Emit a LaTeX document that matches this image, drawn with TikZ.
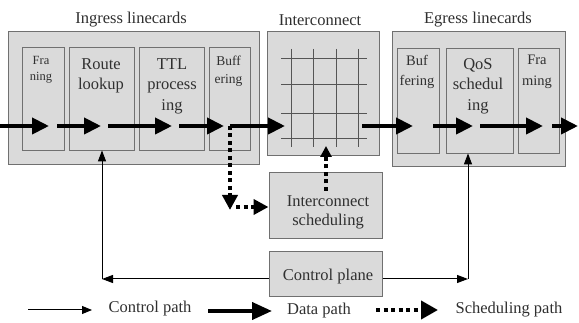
\documentclass[tikz,border=0pt]{standalone}
\usepackage{fontspec}
\setmainfont{Liberation Serif}
\usetikzlibrary{arrows.meta}
\definecolor{boxfill}{HTML}{DADADA}
\definecolor{boxline}{HTML}{707070}
\definecolor{gridline}{HTML}{555555}
\definecolor{inktext}{HTML}{303030}
\begin{document}
\begin{tikzpicture}[x=1pt,y=-1pt,
  outerbox/.style={draw=boxline, fill=boxfill, line width=1pt, inner sep=0pt},
  innerbox/.style={draw=boxline, fill=boxfill, line width=0.8pt, inner sep=0pt},
  lbl/.style={inner sep=0pt, align=center, text=inktext, font=\fontsize{16.5}{20.5}\selectfont},
  datapath/.style={line width=4pt, -{Triangle[length=17pt,width=16pt]}},
  ctrlpath/.style={line width=1pt, -{Triangle[length=11pt,width=8pt]}},
  schedpath/.style={line width=4pt, dash pattern=on 4pt off 3.5pt, -{Triangle[length=15pt,width=15pt]}},
  gridseg/.style={draw=gridline, line width=0.9pt}
]
\useasboundingbox[fill=white] (0,0) rectangle (579,323);

% titles
\node[lbl] (tin) at (131,20) {Ingress linecards};
\node[lbl] (tic) at (320,20) {Interconnect};
\node[lbl] (teg) at (478,20) {Egress linecards};

% ingress
\node[outerbox, minimum width=251pt, minimum height=133pt] (ING) at (133.5,98.5) {};
\node[innerbox, minimum width=42pt, minimum height=103pt] (FR) at (43,98.5) {};
\node[innerbox, minimum width=65pt, minimum height=103pt] (RL) at (101.5,98.5) {};
\node[innerbox, minimum width=65pt, minimum height=103pt] (TTL) at (171.5,98.5) {};
\node[innerbox, minimum width=41pt, minimum height=103pt] (BU) at (229.5,98.5) {};
\node[lbl, font=\fontsize{12.5}{15.5}\selectfont] (FRt) at (41,70) {Fra\\ning};
\node[lbl] (RLt) at (101,76) {Route\\lookup};
\node[lbl] (TTLt) at (172,86) {TTL\\process\\ing};
\node[lbl, font=\fontsize{13.5}{18}\selectfont] (BUt) at (228.5,71) {Buff\\ering};

% interconnect
\node[outerbox, minimum width=112pt, minimum height=124pt] (IC) at (323,94) {};
\foreach \gx in {291,313,336,358} \draw[gridseg] (\gx,49) -- (\gx,147);
\foreach \gy in {58,84,113,138} \draw[gridseg] (281,\gy) -- (367,\gy);

% egress
\node[outerbox, minimum width=173pt, minimum height=135pt] (EG) at (478.5,99.5) {};
\node[innerbox, minimum width=42pt, minimum height=105pt] (EBU) at (418,100.5) {};
\node[innerbox, minimum width=67pt, minimum height=105pt] (QOS) at (479.5,100.5) {};
\node[innerbox, minimum width=41pt, minimum height=105pt] (EFR) at (538.5,100.5) {};
\node[lbl, font=\fontsize{14.5}{20.5}\selectfont] (EBUt) at (417,72) {Buf\\fering};
\node[lbl] (QOSt) at (478,86) {QoS\\schedul\\ing};
\node[lbl, font=\fontsize{14.5}{20.5}\selectfont] (EFRt) at (537,72) {Fra\\ming};

% scheduling and control
\node[outerbox, minimum width=113pt, minimum height=66pt] (IS) at (325.5,206) {};
\node[lbl, font=\fontsize{16.5}{19}\selectfont] (ISt) at (328,212) {Interconnect\\scheduling};
\node[outerbox, minimum width=113pt, minimum height=45pt] (CP) at (325.5,274.5) {};
\node[lbl] (CPt) at (328,277) {Control plane};

% data path coordinates
\coordinate (d0s) at (0,126);   \coordinate (d0e) at (49,126);
\coordinate (d1s) at (57,126);  \coordinate (d1e) at (101,126);
\coordinate (d2s) at (108,126); \coordinate (d2e) at (172,126);
\coordinate (d3s) at (179,126); \coordinate (d3e) at (224,126);
\coordinate (d4s) at (230,126); \coordinate (d4e) at (285,126);
\coordinate (d5s) at (362,126); \coordinate (d5e) at (413,126);
\coordinate (d6s) at (433,126); \coordinate (d6e) at (473,126);
\coordinate (d7s) at (480,126); \coordinate (d7e) at (543,126);
\coordinate (d8s) at (552,126); \coordinate (d8e) at (578,126);
\foreach \k in {0,...,8} \draw[datapath] (d\k s) -- (d\k e);

% scheduling path
\coordinate (sc) at (230,210);
\draw[schedpath] (d4s) -- (sc);
\draw[schedpath] (236,207) -- (IS.west |- 0,207);
\coordinate (su) at (326,191);
\draw[schedpath, -{Triangle[length=11pt,width=11pt]}] (su) -- (326,146);

% control path
\coordinate (cl) at (102,279);
\coordinate (cr) at (468,279);
\draw[ctrlpath] (CP.west |- cl) -- (cl);
\draw[ctrlpath] (cl) -- (cl |- RL.south);
\draw[ctrlpath] (CP.east |- cr) -- (cr);
\draw[ctrlpath] (cr) -- (cr |- QOS.south);

% legend
\coordinate (lc1) at (28,310);  \coordinate (lc2) at (92,310);
\coordinate (ld1) at (208,311); \coordinate (ld2) at (272,311);
\coordinate (ls1) at (376,310); \coordinate (ls2) at (438,310);
\draw[ctrlpath, -{Triangle[length=10pt,width=8pt]}] (lc1) -- (lc2);
\draw[datapath, -{Triangle[length=20pt,width=17pt]}] (ld1) -- (ld2);
\draw[schedpath, -{Triangle[length=17pt,width=18pt]}] (ls1) -- (ls2);
\node[lbl] (lct) at (150,309) {Control path};
\node[lbl] (ldt) at (319,311) {Data path};
\node[lbl] (lst) at (509,310) {Scheduling path};
\end{tikzpicture}
\end{document}
